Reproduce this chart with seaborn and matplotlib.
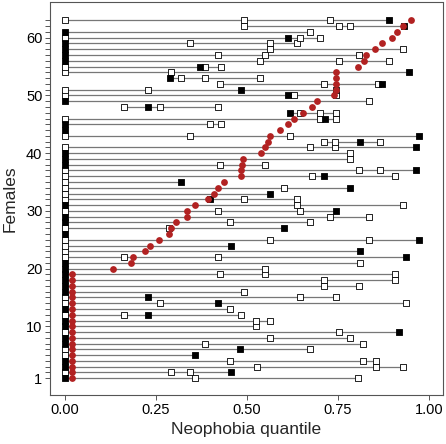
import matplotlib
matplotlib.use("Agg")
import matplotlib.pyplot as plt
import pandas as pd
import seaborn as sns

# neophobia quantile per female (female 1 .. 63)
neophobia = [
    0.02, 0.02, 0.02, 0.02, 0.02, 0.02, 0.02, 0.02, 0.02, 0.02,
    0.02, 0.02, 0.02, 0.02, 0.02, 0.02, 0.02, 0.02, 0.02, 0.132,
    0.183, 0.188, 0.220, 0.233, 0.260, 0.286, 0.293, 0.306, 0.336, 0.336,
    0.357, 0.393, 0.409, 0.421, 0.437, 0.483, 0.485, 0.488, 0.489, 0.539,
    0.549, 0.557, 0.564, 0.591, 0.613, 0.630, 0.653, 0.678, 0.692, 0.740,
    0.744, 0.744, 0.744, 0.744, 0.806, 0.820, 0.826, 0.852, 0.870, 0.897,
    0.913, 0.928, 0.950,
]

# open squares per female
open_obs = [
    [0.357, 0.805], [0.0, 0.292, 0.345], [0.528, 0.855, 0.927], [0.453, 0.818, 0.855],
    [0.0], [0.0, 0.674], [0.384, 0.818], [0.563, 0.782], [0.0, 0.754], [0.525],
    [0.525, 0.564], [0.0, 0.164, 0.485], [0.455], [0.0, 0.263, 0.936], [0.0, 0.645, 0.745],
    [0.493], [0.711, 0.808], [0.711, 0.905], [0.427, 0.551, 0.905], [0.551],
    [0.809], [0.0, 0.164, 0.42], [0.0], [0.0], [0.0, 0.563, 0.836],
    [], [0.0, 0.286], [0.455, 0.674], [0.727, 0.836], [0.0, 0.42, 0.645],
    [0.637, 0.927], [0.0, 0.493, 0.637], [0.0], [0.0, 0.601], [0.0],
    [0.0, 0.678, 0.905], [0.0, 0.808, 0.864], [0.427, 0.551], [0.782], [0.782],
    [0.0, 0.672, 0.742], [0.711, 0.742, 0.864], [0.0, 0.345, 0.617], [], [0.398, 0.43],
    [0.0, 0.70, 0.745], [0.645, 0.70, 0.745], [0.164, 0.263, 0.42], [0.836], [0.0, 0.63, 0.745],
    [0.0, 0.228, 0.745], [0.427, 0.711, 0.861], [0.318, 0.384, 0.535], [0.0, 0.292], [0.0, 0.384, 0.43],
    [0.535, 0.754, 0.890], [0.421, 0.549, 0.808], [0.564, 0.927], [0.345, 0.563, 0.637], [0.0, 0.645, 0.70],
    [0.674], [0.491, 0.754, 0.784], [0.0, 0.491, 0.727],
]

# filled squares per female
filled_obs = [
    [0.0], [0.457], [0.0], [0.0], [0.357], [0.482], [0.0], [0.0], [0.918], [0.0],
    [0.0], [0.228], [0.0], [0.42], [0.228], [0.0], [0.0], [0.0], [0.0], [0.0],
    [0.0], [0.936], [0.809], [0.457], [0.973], [0.0], [0.601], [0.0], [0.0], [0.745],
    [0.0], [0.398], [0.564], [0.782], [0.318], [0.711], [0.963], [0.0], [0.0], [0.0],
    [0.963], [0.809], [0.973], [0.0], [0.0], [0.715], [0.619], [0.228], [0.0], [0.614],
    [0.485], [0.870], [0.289], [0.945], [0.371], [0.0], [0.0], [0.0], [0.0], [0.614],
    [0.0], [0.930], [0.890],
]

females = list(range(1, len(neophobia) + 1))

rows = []
for f, o, c in zip(females, open_obs, filled_obs):
    rows += [(f, q, "open") for q in o]
    rows += [(f, q, "filled") for q in c]
obs = pd.DataFrame(rows, columns=["female", "quantile", "kind"])
span = obs.groupby("female")["quantile"].agg(["min", "max"]).reset_index()
neo = pd.DataFrame({"female": females, "neophobia": neophobia})

sns.set_theme(style="white")
plt.rcParams["font.family"] = ["Liberation Sans", "DejaVu Sans"]

fig = plt.figure(figsize=(4.46, 4.44), dpi=100)
ax = fig.add_axes([50 / 446, 49 / 444, 393 / 446, 392.5 / 444])

# line from first to last observation of each female
ax.hlines(span["female"], span["min"], span["max"], color="#777777", lw=0.9, zorder=1)

sns.scatterplot(data=obs[obs["kind"] == "open"], x="quantile", y="female", ax=ax,
                marker="s", s=20, color="white", edgecolor="black", linewidth=0.6, zorder=2)
sns.scatterplot(data=obs[obs["kind"] == "filled"], x="quantile", y="female", ax=ax,
                marker="s", s=20, color="black", edgecolor="black", linewidth=0.6, zorder=2)
sns.scatterplot(data=neo, x="neophobia", y="female", ax=ax,
                marker="o", s=24, color="#b22222", linewidth=0, zorder=3)

ax.set_xlim(-0.04, 1.038)
ax.set_ylim(-1.9, 66.1)
ax.set_xticks([0, 0.25, 0.5, 0.75, 1.0])
ax.set_xticklabels(["0.00", "0.25", "0.50", "0.75", "1.00"])
ax.set_yticks([1, 10, 20, 30, 40, 50, 60])
ax.set_yticks(females, minor=True)
ax.tick_params(axis="both", which="both", direction="out", length=3.5, width=0.7,
               color="#555555", labelsize=10.5, labelcolor="black", pad=2)
ax.tick_params(axis="y", which="both", left=True)
ax.tick_params(axis="x", bottom=True)
for sp in ax.spines.values():
    sp.set_color("#555555")
    sp.set_linewidth(0.8)

ax.set_xlabel("Neophobia quantile", fontsize=12.5, labelpad=4)
ax.set_ylabel("Females", fontsize=12.5, labelpad=6)

fig.savefig("out.png", dpi=100)
